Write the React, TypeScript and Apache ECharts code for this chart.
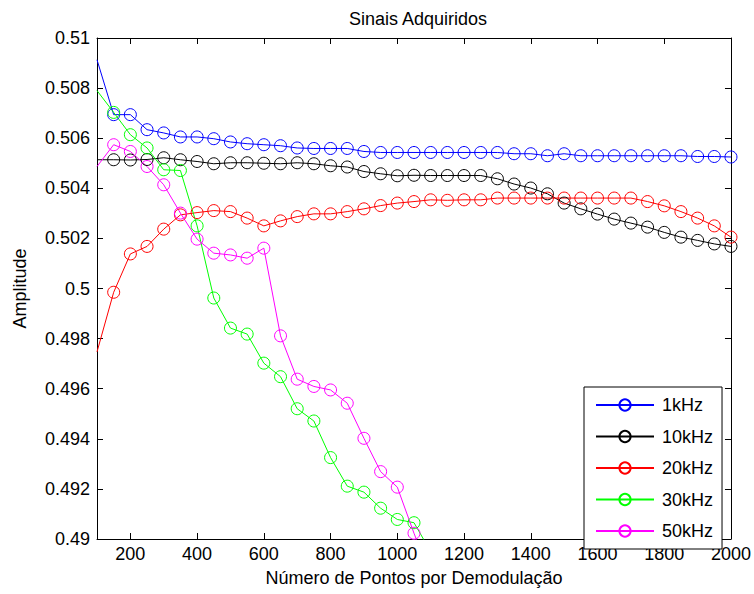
import React, { useEffect, useRef } from "react";
import * as echarts from "echarts";

const xValues = [
  100, 150, 200, 250, 300, 350, 400, 450, 500, 550, 600, 650, 700, 750, 800, 850, 900, 950, 1000,
  1050, 1100, 1150, 1200, 1250, 1300, 1350, 1400, 1450, 1500, 1550, 1600, 1650, 1700, 1750, 1800,
  1850, 1900, 1950, 2000,
];

const s1kHz = [
  0.50913, 0.50694, 0.50694, 0.50634, 0.50621, 0.50605, 0.50605, 0.50598, 0.50585, 0.50578,
  0.50574, 0.5057, 0.50561, 0.50559, 0.50559, 0.50559, 0.50547, 0.50543, 0.50543, 0.50543,
  0.50543, 0.50543, 0.50543, 0.50543, 0.50543, 0.50538, 0.50538, 0.5053, 0.50538, 0.5053,
  0.5053, 0.5053, 0.5053, 0.5053, 0.5053, 0.5053, 0.50527, 0.50527, 0.50525,
];

const s10kHz = [
  0.50514, 0.50514, 0.50513, 0.50515, 0.50522, 0.50514, 0.50507, 0.50498, 0.50502, 0.50502,
  0.505, 0.50498, 0.50502, 0.50498, 0.5049, 0.50485, 0.50467, 0.50458, 0.5045, 0.50452,
  0.50451, 0.50451, 0.50451, 0.50451, 0.50438, 0.50417, 0.50401, 0.50378, 0.50341, 0.50318,
  0.50297, 0.50277, 0.50261, 0.50245, 0.50224, 0.50205, 0.50192, 0.50178, 0.50168,
];

const s20kHz = [
  0.49747, 0.49985, 0.50138, 0.50168, 0.50237, 0.50294, 0.50303, 0.50311, 0.50307, 0.50281,
  0.5025, 0.5027, 0.50287, 0.50298, 0.50298, 0.50307, 0.50318, 0.50331, 0.50341, 0.50347,
  0.50354, 0.50352, 0.50354, 0.50354, 0.50361, 0.50361, 0.50361, 0.50361, 0.50361, 0.50361,
  0.50361, 0.50361, 0.50361, 0.50347, 0.5033, 0.50307, 0.50281, 0.5025, 0.50205,
];

const s30kHz = [
  0.5079, 0.50703, 0.50614, 0.50561, 0.50474, 0.50471, 0.5025, 0.49962, 0.49842, 0.49818,
  0.49702, 0.49648, 0.4952, 0.49471, 0.49325, 0.49211, 0.49187, 0.49123, 0.49078, 0.49065,
  0.4895,
];

const s50kHz = [
  0.50487, 0.50574, 0.50547, 0.50487, 0.50414, 0.50301, 0.50197, 0.50141, 0.50134, 0.50121,
  0.50161, 0.49811, 0.49638, 0.49609, 0.49595, 0.49542, 0.49402, 0.49269, 0.49207, 0.49023,
  0.4885,
];

const seriesNames = ["1kHz", "10kHz", "20kHz", "30kHz", "50kHz"];
const seriesColors = ["#0000ff", "#000000", "#ff0000", "#00ff00", "#ff00ff"];
const seriesValues = [s1kHz, s10kHz, s20kHz, s30kHz, s50kHz];

const xTickValues = [200, 400, 600, 800, 1000, 1200, 1400, 1600, 1800, 2000];

const title = "Sinais Adquiridos";
const xName = "Número de Pontos por Demodulação";
const yName = "Amplitude";

const FONT = "'Liberation Sans', Arial, sans-serif";

export default function App() {
  const ref = useRef<HTMLDivElement>(null);

  useEffect(() => {
    if (!ref.current) return;
    const chart = echarts.init(ref.current, undefined, { renderer: "svg" });

    const series = seriesValues.map((vals, si) => ({
      name: seriesNames[si],
      type: "line",
      clip: true,
      symbol: "circle",
      symbolSize: 12,
      showSymbol: true,
      lineStyle: { color: seriesColors[si], width: 1 },
      itemStyle: { color: "rgba(0,0,0,0)", borderColor: seriesColors[si], borderWidth: 1 },
      emphasis: { disabled: true },
      data: vals.map((v, i) =>
        i === 0 ? { value: [xValues[i], v], symbol: "none" } : { value: [xValues[i], v] }
      ),
    }));

    const tickStyle = { inside: true, length: 6, lineStyle: { color: "#000", width: 1 } };

    chart.setOption({
      animation: false,
      backgroundColor: "#fff",
      title: {
        text: title,
        left: 413,
        top: 5,
        textAlign: "center",
        textStyle: { fontFamily: FONT, fontSize: 18, fontWeight: "normal", color: "#000" },
      },
      grid: { left: 97, right: 22, top: 38, bottom: 55, containLabel: false },
      legend: {
        orient: "vertical",
        left: 584,
        top: 387,
        padding: [9, 9, 9, 11],
        itemWidth: 58,
        itemHeight: 14,
        itemGap: 13.5,
        backgroundColor: "#fff",
        borderColor: "#000",
        borderWidth: 1,
        borderRadius: 0,
        selectedMode: false,
        textStyle: { fontFamily: FONT, fontSize: 18, color: "#000", padding: [0, 0, 0, 3] },
        data: seriesNames,
      },
      xAxis: [
        {
          type: "value",
          min: 100,
          max: 2000,
          name: xName,
          nameLocation: "middle",
          nameGap: 30,
          nameTextStyle: { fontFamily: FONT, fontSize: 18, color: "#000" },
          axisLine: { onZero: false, lineStyle: { color: "#000", width: 1 } },
          axisTick: { ...tickStyle, customValues: xTickValues },
          axisLabel: {
            customValues: xTickValues,
            fontFamily: FONT,
            fontSize: 18,
            color: "#000",
            margin: 6,
            formatter: (v: number) => String(v),
          },
          splitLine: { show: false },
        },
        {
          type: "value",
          min: 100,
          max: 2000,
          position: "top",
          axisLine: { onZero: false, lineStyle: { color: "#000", width: 1 } },
          axisTick: { ...tickStyle, customValues: xTickValues },
          axisLabel: { show: false },
          splitLine: { show: false },
        },
      ],
      yAxis: [
        {
          type: "value",
          min: 0.49,
          max: 0.51,
          interval: 0.002,
          name: yName,
          nameLocation: "middle",
          nameGap: 68,
          nameRotate: 90,
          nameTextStyle: { fontFamily: FONT, fontSize: 18, color: "#000" },
          axisLine: { onZero: false, lineStyle: { color: "#000", width: 1 } },
          axisTick: tickStyle,
          axisLabel: {
            fontFamily: FONT,
            fontSize: 18,
            color: "#000",
            margin: 7,
            formatter: (v: number) => String(parseFloat(v.toFixed(4))),
          },
          splitLine: { show: false },
        },
        {
          type: "value",
          min: 0.49,
          max: 0.51,
          interval: 0.002,
          position: "right",
          axisLine: { onZero: false, lineStyle: { color: "#000", width: 1 } },
          axisTick: tickStyle,
          axisLabel: { show: false },
          splitLine: { show: false },
        },
      ],
      series,
    });

    return () => chart.dispose();
  }, []);

  return (
    <div
      ref={ref}
      style={{ position: "fixed", left: 0, top: 0, width: 754, height: 594, background: "#fff" }}
    />
  );
}
